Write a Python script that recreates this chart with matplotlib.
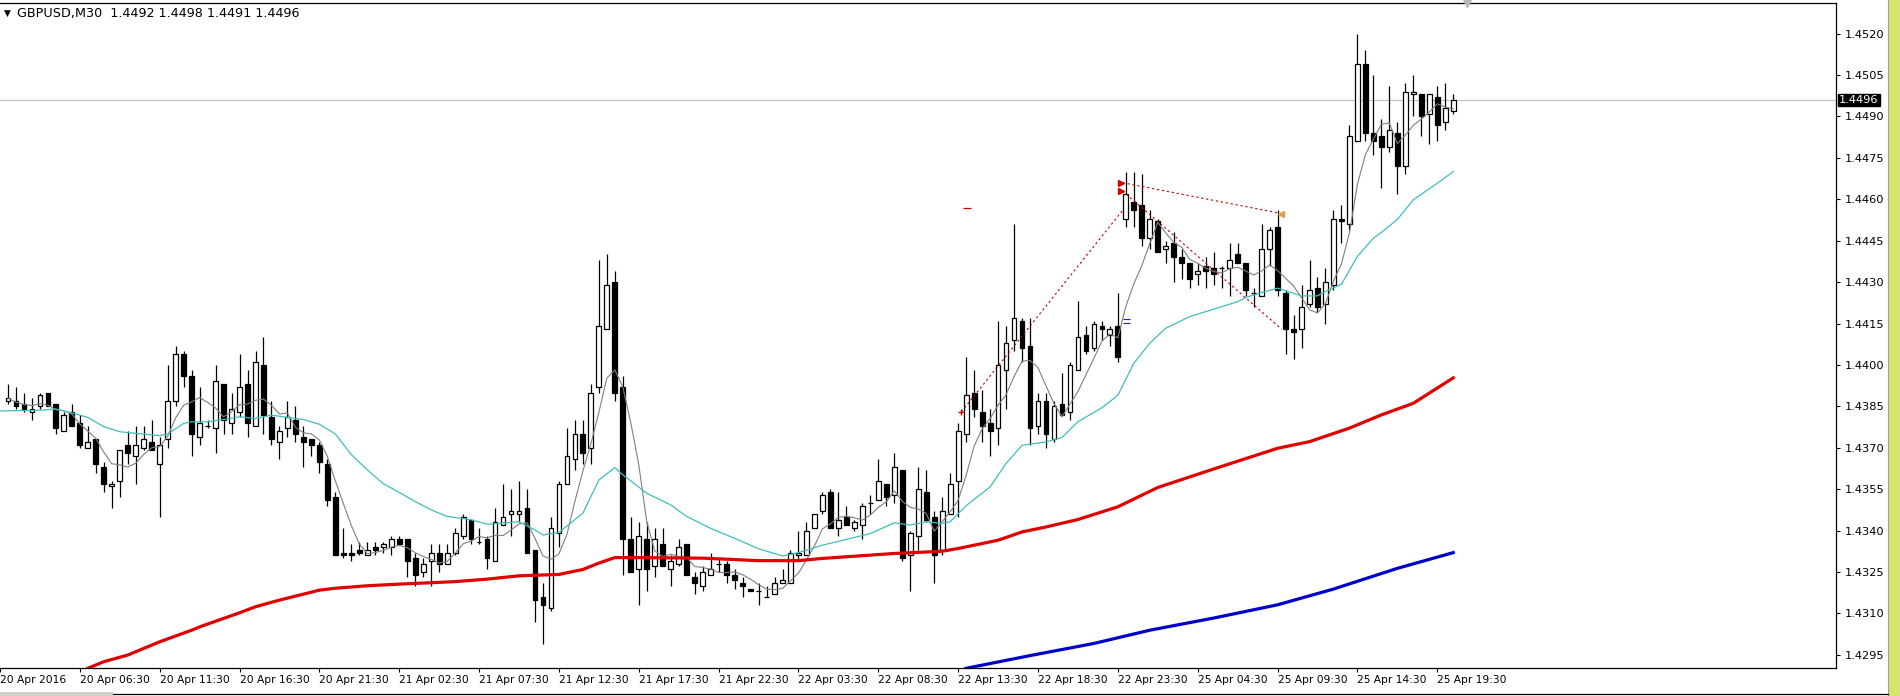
import numpy as np
import pandas as pd
import matplotlib
matplotlib.use("Agg")
import matplotlib.pyplot as plt
from matplotlib.patches import Rectangle
from matplotlib.lines import Line2D

plt.rcParams['font.family'] = ['DejaVu Sans']

# GBPUSD M30 candles, first bar is 10 bars before "20 Apr 06:30" minus one
first_bar = -9
opens = [1.4387, 1.4387, 1.4386, 1.4383, 1.4385, 1.4390, 1.4386, 1.4376, 1.4383, 1.4379,
         1.4370, 1.4373, 1.4363, 1.4356, 1.4358, 1.4371, 1.4367, 1.4370, 1.4372, 1.4364,
         1.4373, 1.4387, 1.4404, 1.4396, 1.4374, 1.4378, 1.4377, 1.4393, 1.4379, 1.4383,
         1.4393, 1.4378, 1.4400, 1.4381, 1.4372, 1.4377, 1.4380, 1.4374, 1.4373, 1.4371,
         1.4364, 1.4352, 1.4332, 1.4332, 1.4333, 1.4331, 1.4334, 1.4334, 1.4334, 1.4337,
         1.4337, 1.4330, 1.4325, 1.4329, 1.4332, 1.4328, 1.4332, 1.4338, 1.4344, 1.4336,
         1.4337, 1.4329, 1.4342, 1.4346, 1.4346, 1.4348, 1.4333, 1.4316, 1.4312, 1.4339,
         1.4357, 1.4366, 1.4375, 1.4370, 1.4392, 1.4413, 1.4430, 1.4392, 1.4337, 1.4326,
         1.4337, 1.4327, 1.4335, 1.4326, 1.4328, 1.4335, 1.4323, 1.4320, 1.4324, 1.4328,
         1.4328, 1.4324, 1.4321, 1.4319, 1.4318, 1.4316, 1.4317, 1.4321, 1.4321, 1.4331,
         1.4331, 1.4341, 1.4347, 1.4354, 1.4341, 1.4345, 1.4341, 1.4342, 1.4350, 1.4351,
         1.4357, 1.4353, 1.4362, 1.4331, 1.4338, 1.4354, 1.4345, 1.4333, 1.4346, 1.4358,
         1.4375, 1.4390, 1.4383, 1.4379, 1.4377, 1.4398, 1.4409, 1.4416, 1.4407, 1.4378,
         1.4387, 1.4373, 1.4386, 1.4383, 1.4398, 1.4411, 1.4406, 1.4414, 1.4411, 1.4414,
         1.4453, 1.4459, 1.4458, 1.4446, 1.4452, 1.4442, 1.4444, 1.4439, 1.4437, 1.4433,
         1.4436, 1.4435, 1.4435, 1.4435, 1.4440, 1.4437, 1.4426, 1.4425, 1.4442, 1.4450,
         1.4426, 1.4413, 1.4413, 1.4422, 1.4428, 1.4422, 1.4429, 1.4453, 1.4451, 1.4481,
         1.4509, 1.4484, 1.4483, 1.4479, 1.4484, 1.4472, 1.4498, 1.4498, 1.4491, 1.4497,
         1.4488, 1.4492]
highs = [1.4393, 1.4392, 1.4390, 1.4388, 1.4390, 1.4390, 1.4386, 1.4383, 1.4386, 1.4382,
         1.4378, 1.4373, 1.4365, 1.4358, 1.4369, 1.4376, 1.4378, 1.4378, 1.4380, 1.4374,
         1.4400, 1.4407, 1.4405, 1.4398, 1.4392, 1.4380, 1.4400, 1.4393, 1.4390, 1.4404,
         1.4398, 1.4405, 1.4410, 1.4387, 1.4378, 1.4387, 1.4385, 1.4378, 1.4373, 1.4372,
         1.4366, 1.4354, 1.4341, 1.4335, 1.4336, 1.4336, 1.4336, 1.4336, 1.4338, 1.4338,
         1.4337, 1.4332, 1.4330, 1.4335, 1.4335, 1.4335, 1.4341, 1.4346, 1.4344, 1.4341,
         1.4338, 1.4348, 1.4357, 1.4355, 1.4358, 1.4355, 1.4333, 1.4321, 1.4345, 1.4358,
         1.4377, 1.4380, 1.4380, 1.4393, 1.4438, 1.4440, 1.4434, 1.4396, 1.4345, 1.4343,
         1.4343, 1.4341, 1.4341, 1.4331, 1.4337, 1.4335, 1.4325, 1.4327, 1.4332, 1.4330,
         1.4329, 1.4326, 1.4323, 1.4319, 1.4321, 1.4320, 1.4323, 1.4326, 1.4333, 1.4340,
         1.4343, 1.4346, 1.4354, 1.4355, 1.4354, 1.4349, 1.4344, 1.4350, 1.4353, 1.4366,
         1.4357, 1.4368, 1.4362, 1.4340, 1.4363, 1.4362, 1.4347, 1.4352, 1.4361, 1.4379,
         1.4403, 1.4398, 1.4391, 1.4384, 1.4416, 1.4414, 1.4451, 1.4417, 1.4417, 1.4390,
         1.4390, 1.4387, 1.4397, 1.4401, 1.4423, 1.4414, 1.4416, 1.4416, 1.4414, 1.4426,
         1.4470, 1.4470, 1.4469, 1.4456, 1.4453, 1.4445, 1.4448, 1.4442, 1.4437, 1.4437,
         1.4439, 1.4441, 1.4436, 1.4444, 1.4444, 1.4437, 1.4428, 1.4451, 1.4450, 1.4456,
         1.4427, 1.4418, 1.4429, 1.4438, 1.4432, 1.4435, 1.4456, 1.4458, 1.4487, 1.4520,
         1.4514, 1.4505, 1.4489, 1.4501, 1.4488, 1.4502, 1.4505, 1.4498, 1.4498, 1.4501,
         1.4502, 1.4498]
lows = [1.4386, 1.4384, 1.4383, 1.4380, 1.4384, 1.4385, 1.4375, 1.4376, 1.4378, 1.4370,
        1.4370, 1.4361, 1.4354, 1.4348, 1.4352, 1.4364, 1.4357, 1.4369, 1.4369, 1.4345,
        1.4370, 1.4385, 1.4392, 1.4367, 1.4371, 1.4377, 1.4368, 1.4375, 1.4375, 1.4381,
        1.4374, 1.4378, 1.4375, 1.4371, 1.4366, 1.4374, 1.4372, 1.4363, 1.4367, 1.4361,
        1.4349, 1.4331, 1.4330, 1.4329, 1.4331, 1.4331, 1.4331, 1.4332, 1.4331, 1.4335,
        1.4323, 1.4320, 1.4323, 1.4320, 1.4325, 1.4328, 1.4331, 1.4337, 1.4335, 1.4335,
        1.4326, 1.4329, 1.4342, 1.4338, 1.4343, 1.4332, 1.4307, 1.4299, 1.4311, 1.4334,
        1.4357, 1.4362, 1.4364, 1.4364, 1.4390, 1.4413, 1.4387, 1.4324, 1.4325, 1.4313,
        1.4318, 1.4323, 1.4327, 1.4320, 1.4327, 1.4324, 1.4317, 1.4318, 1.4324, 1.4325,
        1.4321, 1.4319, 1.4316, 1.4318, 1.4313, 1.4316, 1.4317, 1.4321, 1.4321, 1.4329,
        1.4331, 1.4341, 1.4346, 1.4341, 1.4338, 1.4342, 1.4340, 1.4337, 1.4346, 1.4351,
        1.4349, 1.4350, 1.4329, 1.4318, 1.4333, 1.4343, 1.4321, 1.4331, 1.4346, 1.4345,
        1.4372, 1.4381, 1.4372, 1.4367, 1.4371, 1.4384, 1.4405, 1.4401, 1.4371, 1.4375,
        1.4370, 1.4372, 1.4382, 1.4380, 1.4398, 1.4404, 1.4405, 1.4409, 1.4407, 1.4401,
        1.4450, 1.4450, 1.4443, 1.4442, 1.4441, 1.4437, 1.4430, 1.4431, 1.4428, 1.4429,
        1.4428, 1.4429, 1.4428, 1.4425, 1.4437, 1.4425, 1.4421, 1.4425, 1.4436, 1.4425,
        1.4404, 1.4402, 1.4406, 1.4421, 1.4419, 1.4415, 1.4427, 1.4444, 1.4449, 1.4481,
        1.4481, 1.4476, 1.4464, 1.4477, 1.4462, 1.4469, 1.4490, 1.4483, 1.4480, 1.4481,
        1.4485, 1.4491]
closes = [1.4388, 1.4385, 1.4384, 1.4384, 1.4389, 1.4385, 1.4377, 1.4382, 1.4378, 1.4371,
          1.4372, 1.4364, 1.4357, 1.4357, 1.4369, 1.4368, 1.4371, 1.4373, 1.4369, 1.4371,
          1.4387, 1.4404, 1.4396, 1.4375, 1.4379, 1.4378, 1.4394, 1.4380, 1.4384, 1.4392,
          1.4379, 1.4401, 1.4382, 1.4373, 1.4376, 1.4381, 1.4375, 1.4372, 1.4371, 1.4365,
          1.4351, 1.4331, 1.4331, 1.4331, 1.4332, 1.4333, 1.4333, 1.4335, 1.4337, 1.4335,
          1.4329, 1.4324, 1.4328, 1.4332, 1.4328, 1.4332, 1.4339, 1.4345, 1.4337, 1.4336,
          1.4330, 1.4343, 1.4345, 1.4347, 1.4347, 1.4332, 1.4315, 1.4313, 1.4341, 1.4357,
          1.4367, 1.4375, 1.4368, 1.4390, 1.4414, 1.4429, 1.4390, 1.4337, 1.4325, 1.4338,
          1.4326, 1.4337, 1.4327, 1.4329, 1.4334, 1.4324, 1.4321, 1.4325, 1.4326, 1.4328,
          1.4324, 1.4322, 1.4320, 1.4318, 1.4318, 1.4316, 1.4321, 1.4322, 1.4332, 1.4332,
          1.4340, 1.4346, 1.4353, 1.4341, 1.4344, 1.4342, 1.4343, 1.4349, 1.4350, 1.4358,
          1.4352, 1.4363, 1.4330, 1.4339, 1.4355, 1.4344, 1.4331, 1.4347, 1.4357, 1.4376,
          1.4389, 1.4384, 1.4378, 1.4376, 1.4400, 1.4408, 1.4417, 1.4406, 1.4377, 1.4387,
          1.4375, 1.4385, 1.4382, 1.4400, 1.4410, 1.4405, 1.4415, 1.4413, 1.4413, 1.4403,
          1.4462, 1.4456, 1.4446, 1.4453, 1.4441, 1.4443, 1.4439, 1.4437, 1.4431, 1.4434,
          1.4434, 1.4433, 1.4435, 1.4438, 1.4437, 1.4427, 1.4426, 1.4442, 1.4449, 1.4427,
          1.4413, 1.4412, 1.4421, 1.4427, 1.4421, 1.4430, 1.4453, 1.4452, 1.4483, 1.4509,
          1.4484, 1.4481, 1.4479, 1.4485, 1.4472, 1.4499, 1.4499, 1.4490, 1.4498, 1.4487,
          1.4493, 1.4496]

# moving averages (bar index, price)
cyan_bars = [-10, -5, -3, -1, 1, 3, 5, 7, 10, 11, 13, 14, 16, 18, 20, 22, 24, 26, 28, 30,
             32, 34, 36, 38, 40, 42, 44, 46, 49, 51, 53, 55, 57, 58, 60, 63, 65, 67, 68, 71,
             74, 76, 79, 82, 85, 88, 90, 93, 96, 99, 102, 104, 106, 108, 109, 111, 114, 116,
             118, 121, 123, 125, 128, 130, 132, 134, 136, 139, 142, 145, 146, 148, 150, 151,
             153, 155, 156, 158, 160, 162, 163, 165, 167, 170, 172]
cyan_vals = [1.43833, 1.43836, 1.43840, 1.43826, 1.43810, 1.43776, 1.43758, 1.43752, 1.43744,
             1.43750, 1.43788, 1.43794, 1.43794, 1.43802, 1.43812, 1.43806, 1.43818, 1.43810,
             1.43802, 1.43785, 1.43750, 1.43675, 1.43620, 1.43570, 1.43538, 1.43505, 1.43475,
             1.43451, 1.43439, 1.43423, 1.43427, 1.43432, 1.43402, 1.43384, 1.43393, 1.43463,
             1.43583, 1.43628, 1.43602, 1.43535, 1.43493, 1.43451, 1.43408, 1.43372, 1.43334,
             1.43308, 1.43320, 1.43347, 1.43368, 1.43389, 1.43428, 1.43420, 1.43432, 1.43426,
             1.43432, 1.43490, 1.43558, 1.43643, 1.43709, 1.43721, 1.43737, 1.43794, 1.43845,
             1.43890, 1.44006, 1.44079, 1.44133, 1.44175, 1.44202, 1.44229, 1.44244, 1.44262,
             1.44278, 1.44269, 1.44250, 1.44250, 1.44266, 1.44292, 1.44393, 1.44459, 1.44480,
             1.44527, 1.44598, 1.44658, 1.44700]
red_bars = [1, 3, 6, 10, 14, 15, 20, 22, 25, 30, 32, 36, 40, 44, 47, 51, 55, 60, 63, 65, 67,
            70, 78, 85, 90, 93, 102, 108, 110, 115, 118, 121, 125, 130, 135, 142, 150, 154,
            159, 163, 167, 172]
red_vals = [1.42901, 1.42925, 1.42949, 1.42997, 1.43039, 1.43051, 1.43102, 1.43124, 1.43148,
            1.43184, 1.43191, 1.43200, 1.43206, 1.43211, 1.43215, 1.43224, 1.43236, 1.43241,
            1.43259, 1.43282, 1.43302, 1.43302, 1.43300, 1.43291, 1.43291, 1.43299, 1.43317,
            1.43325, 1.43335, 1.43365, 1.43395, 1.43413, 1.43440, 1.43486, 1.43556, 1.43623,
            1.43698, 1.43722, 1.43771, 1.43819, 1.43861, 1.43953]
blue_bars = [111, 119, 127, 134, 142, 150, 157, 165, 172]
blue_vals = [1.42901, 1.42947, 1.42991, 1.43039, 1.43083, 1.43131, 1.43188, 1.43263, 1.43320]

tick_bars = list(range(-10, 171, 10))
tick_labels = ["20 Apr 2016", "20 Apr 06:30", "20 Apr 11:30", "20 Apr 16:30", "20 Apr 21:30",
               "21 Apr 02:30", "21 Apr 07:30", "21 Apr 12:30", "21 Apr 17:30", "21 Apr 22:30",
               "22 Apr 03:30", "22 Apr 08:30", "22 Apr 13:30", "22 Apr 18:30", "22 Apr 23:30",
               "25 Apr 04:30", "25 Apr 09:30", "25 Apr 14:30", "25 Apr 19:30"]
price_ticks = [1.4295, 1.4310, 1.4325, 1.4340, 1.4355, 1.4370, 1.4385, 1.4400,
               1.4415, 1.4430, 1.4445, 1.4460, 1.4475, 1.4490, 1.4505, 1.4520]
last_price = 1.4496

o = np.array(opens)
h = np.array(highs)
l = np.array(lows)
c = np.array(closes)
bars = np.arange(first_bar, first_bar + len(o))
up = c >= o
fast_ma = pd.Series(c).rolling(5, min_periods=1).mean()

fig = plt.figure(figsize=(19, 6.96), dpi=100)
ax = fig.add_axes([0, 27.7 / 696, 1835.7 / 1900, 665.3 / 696])

# candles
ax.vlines(bars, l, h, color="black", lw=0.9, zorder=2)
body_lo = np.minimum(o, c)
body_h = np.maximum(np.abs(c - o), 0.000001)
ax.bar(bars, body_h, bottom=body_lo, width=0.6,
       color=np.where(up, "white", "black"), edgecolor="black", lw=0.9, zorder=3)

# indicators
ax.plot(bars, fast_ma, color="#7f7f7f", lw=0.8, zorder=4)
ax.plot(cyan_bars, cyan_vals, color="#3fbdbd", lw=0.9, zorder=4)
ax.plot(red_bars, red_vals, color="#e00000", lw=2.3, zorder=4)
ax.plot(blue_bars, blue_vals, color="#0000c8", lw=2.3, zorder=4)

# drawn pattern lines and markers
ax.plot([110.4, 130.6], [1.4383, 1.4456], color="#c00000", lw=0.8, ls=(0, (2, 2.5)), zorder=5)
ax.plot([130.6, 150.2], [1.4466, 1.4455], color="#c00000", lw=0.8, ls=(0, (2, 2.5)), zorder=5)
ax.plot([130.6, 150.5], [1.4463, 1.4413], color="#c00000", lw=0.8, ls=(0, (2, 2.5)), zorder=5)
ax.plot([130.4, 130.4], [1.4466, 1.4463], ls="none", marker=">", ms=4, color="#d00000", zorder=6)
ax.plot([110.4], [1.4383], ls="none", marker="+", ms=4, color="#d00000", zorder=6)
ax.plot([150.4], [1.44545], ls="none", marker="<", ms=5, color="#e0a040", zorder=6)
ax.hlines(1.4457, 110.6, 111.6, color="#d00000", lw=0.9, zorder=5)
ax.hlines([1.44165, 1.44153], 130.6, 131.5, color="#2020a0", lw=0.8, zorder=5)

# current price line and label
ax.axhline(last_price, color="#c0c0c0", lw=0.8, zorder=1)
ax.annotate(f"{last_price:.4f}", xy=(1, last_price), xycoords=ax.get_yaxis_transform(),
            xytext=(2.5, 0), textcoords="offset points", ha="left", va="center",
            color="white", fontsize=8.2, annotation_clip=False, zorder=10,
            bbox=dict(boxstyle="square,pad=0.12", fc="black", ec="black"))

ax.set_xlim(-9.56, 219.9)
ax.set_ylim(1.42901, 1.45311)

ax.set_xticks(tick_bars)
ax.set_xticklabels(tick_labels, ha="left", fontsize=7.7)
ax.set_yticks(price_ticks)
ax.set_yticklabels([f"{p:.4f}" for p in price_ticks], fontsize=8.2)
ax.yaxis.tick_right()
ax.tick_params(axis="y", length=3, width=0.8, pad=3.5)
ax.tick_params(axis="x", length=3, width=0.8, pad=2)
for s in ["top", "right", "bottom"]:
    ax.spines[s].set_linewidth(0.9)
ax.spines["left"].set_visible(False)

# chart shift marker at top
ax.plot([173.7], [1.45311], marker="v", ms=6, color="#b8b8b8", clip_on=False, zorder=10)

# title
fig.text(4 / 1900, 1 - 13 / 696, "\u25bc", fontsize=6.5, va="center", ha="left")
fig.text(17 / 1900, 1 - 13 / 696, "GBPUSD,M30  1.4492 1.4498 1.4491 1.4496",
         fontsize=9.2, va="center", ha="left")

# window edges
fig.add_artist(Rectangle((1889 / 1900, 0), 11 / 1900, 1, transform=fig.transFigure,
                         fc="#d8e46e", ec="none"))
fig.add_artist(Line2D([1888 / 1900, 1888 / 1900], [0, 1], transform=fig.transFigure,
                      color="#a0a0a0", lw=0.8))
fig.add_artist(Rectangle((0, 0), 113 / 1900, 4 / 696, transform=fig.transFigure,
                         fc="#d4d0c8", ec="none"))
fig.add_artist(Line2D([113 / 1900, 1888 / 1900], [2 / 696, 2 / 696], transform=fig.transFigure,
                      color="black", lw=0.9))

fig.savefig("out.png", dpi=100)
